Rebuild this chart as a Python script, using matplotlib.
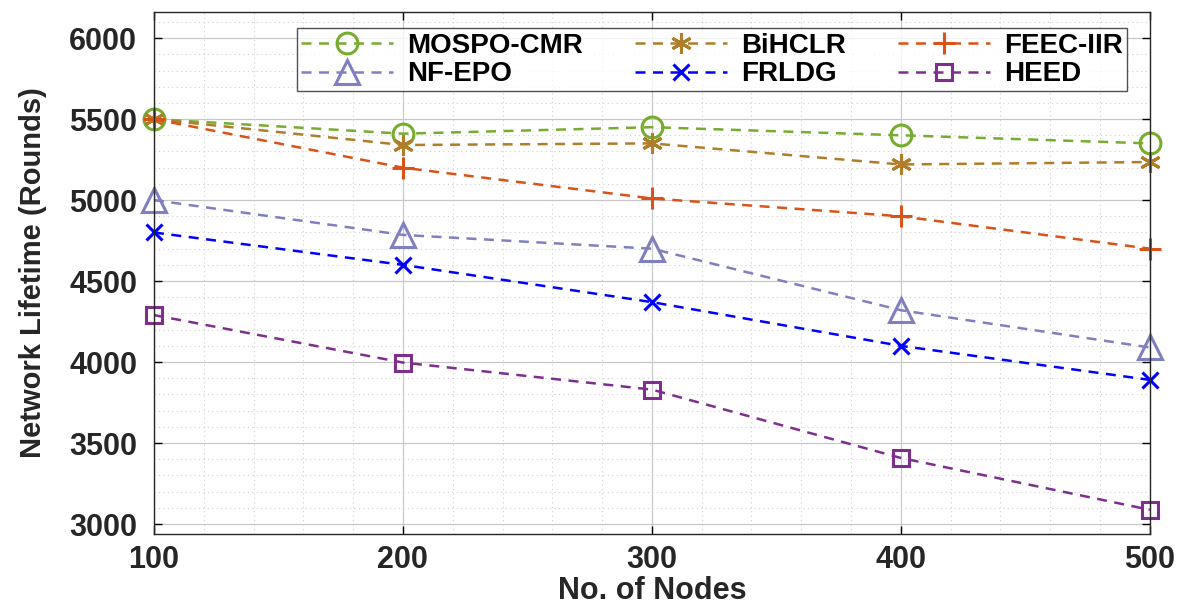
import matplotlib
matplotlib.use("Agg")
import matplotlib.pyplot as plt
from matplotlib.ticker import MultipleLocator

plt.rcParams['font.family'] = ['Liberation Sans', 'DejaVu Sans']
plt.rcParams['font.weight'] = 'bold'

nodes = [100, 200, 300, 400, 500]

# lifetime values
mospo = [5500, 5410, 5450, 5400, 5350]
nfepo = [5000, 4785, 4700, 4320, 4090]
bihclr = [5500, 5340, 5350, 5220, 5235]
frldg = [4800, 4600, 4370, 4100, 3890]
feec = [5500, 5200, 5010, 4900, 4700]
heed = [4290, 3997, 3830, 3408, 3088]

names = ['MOSPO-CMR', 'NF-EPO', 'BiHCLR', 'FRLDG', 'FEEC-IIR', 'HEED']
series = [mospo, nfepo, bihclr, frldg, feec, heed]
colors = ['#77AC30', '#8080C0', '#B07D2B', '#0000FF', '#D95319', '#7E2F8E']
markers = ['o', '^', (6, 2, 0), 'x', '+', 's']
msizes = [15, 17, 15, 12, 16, 12]

fig = plt.figure(figsize=(11.89, 6.10), dpi=100)
ax = fig.add_axes([0.1295, 0.125, 0.8375, 0.855])

for name, ys, c, m, ms in zip(names, series, colors, markers, msizes):
    ax.plot(nodes, ys, linestyle=(0, (4, 3)), linewidth=1.8, color=c,
            marker=m, markersize=ms, markerfacecolor='none',
            markeredgewidth=2.2, markeredgecolor=c, label=name, clip_on=False)

ax.set_xlim(100, 500)
ax.set_ylim(2940, 6160)
ax.set_xticks(nodes)
ax.set_yticks([3000, 3500, 4000, 4500, 5000, 5500, 6000])
ax.xaxis.set_minor_locator(MultipleLocator(20))
ax.yaxis.set_minor_locator(MultipleLocator(100))

ax.grid(which='major', color='#c8c8c8', linewidth=0.9)
ax.grid(which='minor', color='#d0d0d0', linestyle=(0, (1, 3)), linewidth=0.8)
ax.set_axisbelow(True)

ax.tick_params(which='both', direction='in', top=True, right=True)
ax.tick_params(which='major', length=6, width=1, labelsize=22)
ax.tick_params(axis='y', pad=12)
ax.tick_params(axis='x', pad=8)
ax.tick_params(which='minor', length=0)
for lab in ax.get_xticklabels() + ax.get_yticklabels():
    lab.set_fontweight('bold')
    lab.set_color('#262626')
for sp in ax.spines.values():
    sp.set_color('#262626')
    sp.set_linewidth(1)

ax.set_xlabel('No. of Nodes', fontsize=22, fontweight='bold', color='#262626', labelpad=1)
ax.set_ylabel('Network Lifetime (Rounds)', fontsize=21, fontweight='bold', color='#262626', labelpad=16)

leg = ax.legend(ncol=3, loc='upper right', bbox_to_anchor=(0.977, 0.969),
                prop={'size': 20, 'weight': 'bold'}, frameon=True, fancybox=False,
                edgecolor='#262626', handlelength=3.3, columnspacing=1.9,
                handletextpad=0.5, borderpad=0.15, labelspacing=0.1, borderaxespad=0)
leg.get_frame().set_linewidth(1)

fig.savefig('out.png', dpi=100)
